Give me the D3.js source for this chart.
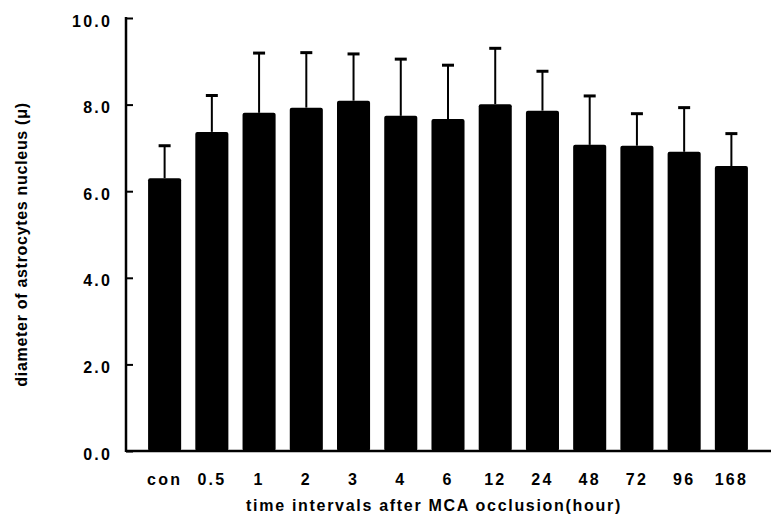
<!DOCTYPE html>
<html>
<head>
<meta charset="utf-8">
<script src="https://cdn.jsdelivr.net/npm/d3@7"></script>
<style>
  body { margin: 0; background: #fff; }
  text { font-family: "Liberation Sans", Arial, sans-serif; font-weight: bold; fill: #000; }
</style>
</head>
<body>
<div id="chart"></div>
<script>
// time points (hours after occlusion) and mean / SD of nucleus diameter
const categories = ['con', '0.5', '1', '2', '3', '4', '6', '12', '24', '48', '72', '96', '168']
const means = [6.30, 7.37, 7.81, 7.93, 8.09, 7.74, 7.67, 8.01, 7.86, 7.07, 7.05, 6.91, 6.58]
const sds = [0.75, 0.84, 1.38, 1.27, 1.08, 1.31, 1.24, 1.29, 0.91, 1.13, 0.74, 1.02, 0.75]
const yTicks = [0, 2, 4, 6, 8, 10]

const width = 771
const height = 519
const margin = { top: 18, right: 1, bottom: 68, left: 126 }

const svg = d3.select('#chart').append('svg')
  .attr('width', width)
  .attr('height', height)

const y = d3.scaleLinear()
  .domain([0, 10])
  .range([height - margin.bottom, margin.top])

const x = d3.scaleBand()
  .domain(categories)
  .range([141, 755])
  .paddingInner(0.3)
  .paddingOuter(0.15)

const data = categories.map((c, i) => ({ cat: c, mean: means[i], sd: sds[i] }))

// error bars (drawn first so the bar covers the lower end)
const err = svg.append('g')
err.selectAll('line.stem')
  .data(data)
  .join('line')
  .attr('class', 'stem')
  .attr('x1', d => x(d.cat) + x.bandwidth() / 2)
  .attr('x2', d => x(d.cat) + x.bandwidth() / 2)
  .attr('y1', d => y(d.mean))
  .attr('y2', d => y(d.mean + d.sd))
  .attr('stroke', '#000')
  .attr('stroke-width', 2)
err.selectAll('line.cap')
  .data(data)
  .join('line')
  .attr('class', 'cap')
  .attr('x1', d => x(d.cat) + x.bandwidth() / 2 - 6)
  .attr('x2', d => x(d.cat) + x.bandwidth() / 2 + 6)
  .attr('y1', d => y(d.mean + d.sd))
  .attr('y2', d => y(d.mean + d.sd))
  .attr('stroke', '#000')
  .attr('stroke-width', 3)

svg.append('g')
  .selectAll('rect')
  .data(data)
  .join('rect')
  .attr('x', d => x(d.cat))
  .attr('y', d => y(d.mean))
  .attr('width', x.bandwidth())
  .attr('height', d => y(0) - y(d.mean))
  .attr('rx', 2)
  .attr('fill', '#000')

// y axis, ticks pointing inward
const yAxis = svg.append('g')
  .attr('transform', `translate(${margin.left},0)`)
  .call(d3.axisRight(y).tickValues(yTicks).tickFormat(d3.format('.1f')).tickSize(7))
yAxis.select('.domain').remove()
yAxis.selectAll('.tick line').attr('stroke-width', 2)
yAxis.selectAll('.tick text')
  .attr('text-anchor', 'end')
  .attr('x', -14)
  .attr('dy', '0.5em')
  .style('font-size', '16px')
  .style('letter-spacing', '2.2px')
yAxis.append('line')
  .attr('x1', 0).attr('x2', 0)
  .attr('y1', y(10) - 1).attr('y2', y(0) + 1)
  .attr('stroke', '#000')
  .attr('stroke-width', 2.5)

// x axis
const xAxis = svg.append('g')
  .attr('transform', `translate(0,${y(0)})`)
  .call(d3.axisBottom(x).tickSize(0).tickPadding(23))
xAxis.select('.domain').remove()
xAxis.selectAll('.tick text')
  .style('font-size', '16px')
  .style('letter-spacing', '2.2px')
xAxis.append('line')
  .attr('x1', margin.left).attr('x2', width)
  .attr('stroke', '#000')
  .attr('stroke-width', 2.5)

svg.append('text')
  .attr('x', 434)
  .attr('y', 511)
  .attr('text-anchor', 'middle')
  .style('font-size', '16px')
  .style('letter-spacing', '1.7px')
  .text('time intervals after MCA occlusion(hour)')

svg.append('text')
  .attr('transform', `translate(27,${(y(0) + y(10)) / 2 + 10}) rotate(-90)`)
  .attr('text-anchor', 'middle')
  .style('font-size', '16px')
  .style('letter-spacing', '0.7px')
  .text('diameter of astrocytes nucleus (μ)')
</script>
</body>
</html>
